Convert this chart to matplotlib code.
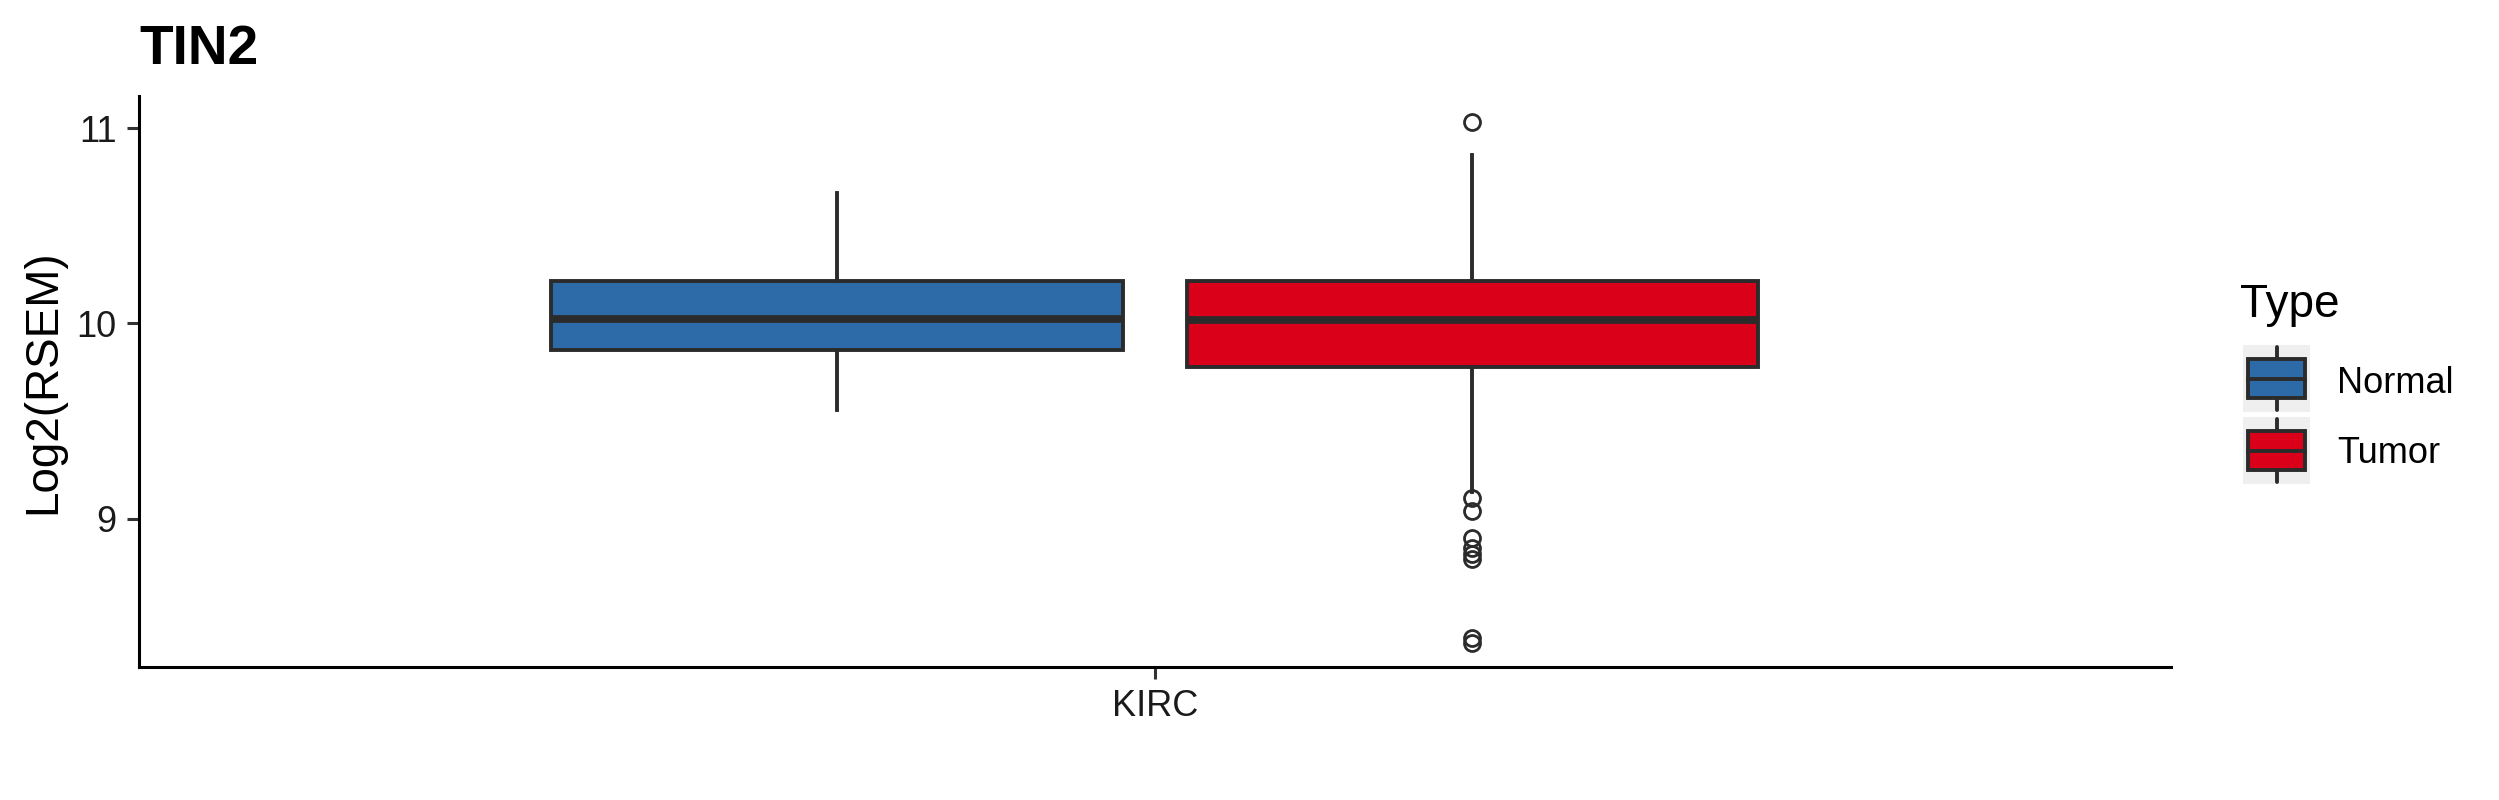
import matplotlib
matplotlib.use("Agg")
import matplotlib.pyplot as plt
from matplotlib.patches import Rectangle

plt.rcParams['font.family'] = ['Liberation Sans', 'DejaVu Sans']

# values (log2 RSEM)
cancer = "KIRC"
groups = ["Normal", "Tumor"]
colors = ["#2C6AA8", "#DB0019"]
q1 = [9.865, 9.775]
med = [10.023, 10.02]
q3 = [10.215, 10.22]
whis_lo = [9.558, 9.137]
whis_hi = [10.668, 10.862]
normal_out = []
tumor_out = [11.03, 9.105, 9.04, 8.90, 8.85, 8.82, 8.795, 8.39, 8.362]
yticks = [9, 10, 11]

edge = "#2B2B2B"
W, H = 2499, 800

fig = plt.figure(figsize=(W / 100, H / 100), dpi=100)
ax = fig.add_axes([138.5 / W, 1 - 667.3 / H, (2171 - 138.5) / W, (667.3 - 95.9) / H])

stats = []
for i, g in enumerate(groups):
    stats.append(dict(label=g, q1=q1[i], med=med[i], q3=q3[i],
                      whislo=whis_lo[i], whishi=whis_hi[i],
                      fliers=[normal_out, tumor_out][i]))

pos = [1 - 0.1875, 1 + 0.1875]
bp = ax.bxp(stats, positions=pos, widths=0.3375, patch_artist=True,
            showcaps=False, manage_ticks=False,
            boxprops=dict(edgecolor=edge, linewidth=2.8),
            medianprops=dict(color=edge, linewidth=5.6, solid_capstyle='butt'),
            whiskerprops=dict(color=edge, linewidth=2.8),
            flierprops=dict(marker='o', markersize=11.5, markerfacecolor='none',
                            markeredgecolor=edge, markeredgewidth=2.0))
for patch, c in zip(bp['boxes'], colors):
    patch.set_facecolor(c)

ax.set_xlim(0.4, 1.6)
ax.set_ylim(8.24, 11.165)
ax.set_xticks([1])
ax.set_xticklabels([cancer])
ax.set_yticks(yticks)
ax.set_yticklabels([str(t) for t in yticks])
for s in ['top', 'right']:
    ax.spines[s].set_visible(False)
for s in ['left', 'bottom']:
    ax.spines[s].set_linewidth(2.2)
    ax.spines[s].set_color('black')
ax.tick_params(axis='both', length=8.6, width=2.2, color='#333333',
               labelsize=26, labelcolor='#1A1A1A', pad=7)

fig.text(139.7 / W, 1 - 64 / H, "TIN2", fontsize=39.6, fontweight='bold',
         ha='left', va='baseline')
fig.text(43 / W, 1 - 381.5 / H, "Log2(RSEM)", fontsize=33, rotation=90,
         ha='center', va='center')

# legend drawn by hand, ggplot style keys
fig.text(2240 / W, 1 - 317 / H, "Type", fontsize=33, ha='left', va='baseline')
key_tops = [345, 417]
baselines = [393, 463]
for i, g in enumerate(groups):
    kax = fig.add_axes([2243 / W, 1 - (key_tops[i] + 67) / H, 67 / W, 67 / H])
    kax.set_xlim(0, 1)
    kax.set_ylim(0, 1)
    kax.axis('off')
    kax.add_patch(Rectangle((0, 0), 1, 1, facecolor='#EFEFEF', edgecolor='none', zorder=0))
    kax.plot([0.5, 0.5], [0.03, 0.97], color=edge, lw=2.8, solid_capstyle='round', zorder=1)
    kax.add_patch(Rectangle((0.08, 0.21), 0.84, 0.58, facecolor=colors[i],
                            edgecolor=edge, linewidth=2.8, zorder=2))
    kax.plot([0.08, 0.92], [0.5, 0.5], color=edge, lw=2.8, zorder=3)
    fig.text(2337 / W, 1 - baselines[i] / H, g, fontsize=26, ha='left', va='baseline')

fig.savefig("out.png", dpi=100, facecolor='white')
